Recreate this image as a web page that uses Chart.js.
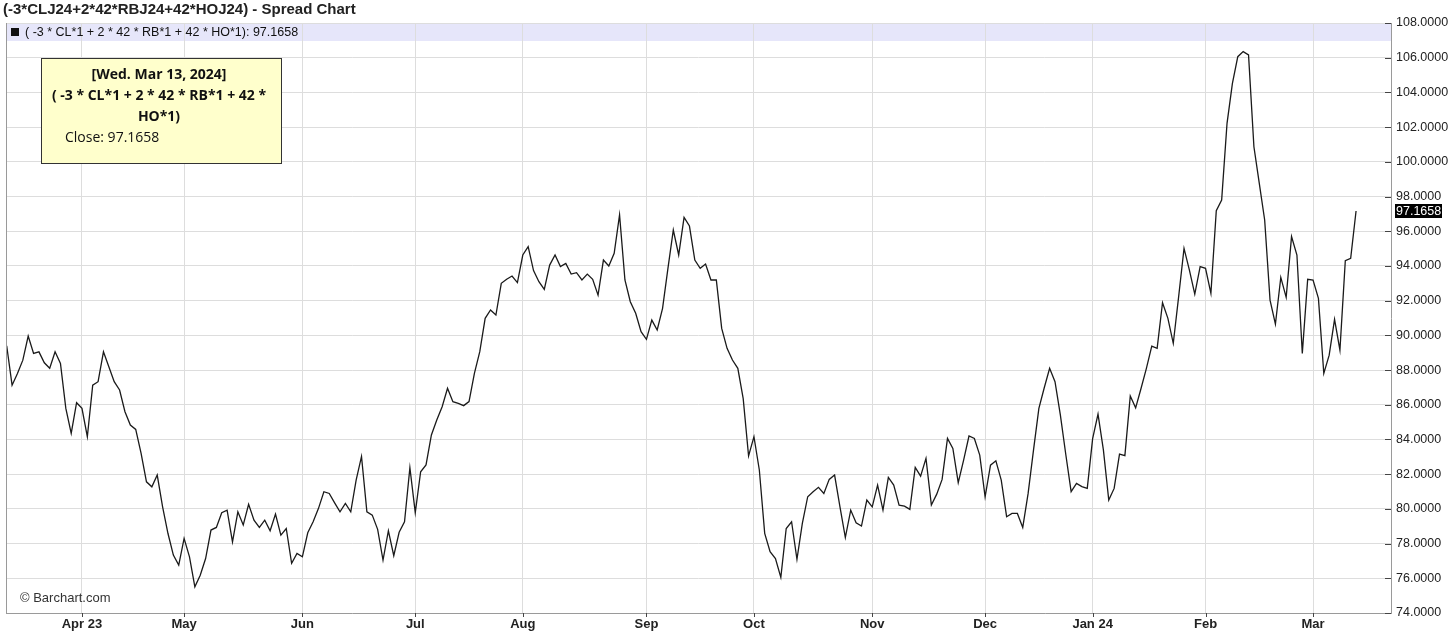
<!DOCTYPE html>
<html>
<head>
<meta charset="utf-8">
<script src="https://cdn.jsdelivr.net/npm/chart.js@4.4.1/dist/chart.umd.min.js"></script>
<style>
  html, body { margin: 0; padding: 0; background: #ffffff; }
  #wrap { position: relative; width: 1456px; height: 638px; }
  canvas { display: block; }
</style>
</head>
<body>
<div id="wrap"><canvas id="c" width="1456" height="638"></canvas></div>
<script>
// ---- Data ----
const chartTitle = "(-3*CLJ24+2*42*RBJ24+42*HOJ24) - Spread Chart";
const seriesName = "( -3 * CL*1 + 2 * 42 * RB*1 + 42 * HO*1)";
const lastDateLabel = "[Wed. Mar 13, 2024]";

// daily closes, trading days from mid-March 2023 to Mar 13, 2024
const closeValues = [
  89.40, 87.13, 87.80, 88.57, 89.96, 88.96, 89.05, 88.42, 88.10, 89.05,
  88.38, 85.79, 84.35, 86.12, 85.79, 84.16, 87.13, 87.33, 89.05, 88.19,
  87.33, 86.85, 85.60, 84.83, 84.58, 83.20, 81.56, 81.27, 81.95, 80.12,
  78.58, 77.34, 76.76, 78.30, 77.24, 75.51, 76.18, 77.14, 78.78, 78.93,
  79.78, 79.93, 78.10, 79.83, 79.07, 80.26, 79.35, 78.93, 79.35, 78.74,
  79.70, 78.49, 78.87, 76.86, 77.43, 77.24, 78.62, 79.26, 80.03, 80.99,
  80.89, 80.35, 79.83, 80.31, 79.83, 81.66, 83.02, 79.83, 79.64, 78.82,
  77.05, 78.74, 77.30, 78.65, 79.26, 82.37, 79.78, 82.14, 82.53, 84.26,
  85.12, 85.89, 86.95, 86.18, 86.08, 85.95, 86.18, 87.81, 89.06, 90.98,
  91.46, 91.17, 93.00, 93.23, 93.42, 93.04, 94.63, 95.11, 93.73, 93.09,
  92.65, 94.05, 94.63, 93.96, 94.15, 93.53, 93.61, 93.19, 93.53, 93.23,
  92.32, 94.34, 94.00, 94.73, 96.94, 93.19, 91.94, 91.27, 90.21, 89.77,
  90.88, 90.31, 91.56, 93.86, 96.07, 94.63, 96.80, 96.30, 94.34, 93.86,
  94.11, 93.19, 93.19, 90.40, 89.25, 88.58, 88.10, 86.35, 83.05, 84.16,
  82.24, 78.59, 77.53, 77.14, 76.05, 78.87, 79.26, 77.09, 79.16, 80.70,
  80.99, 81.24, 80.89, 81.70, 81.95, 80.12, 78.35, 79.93, 79.20, 79.01,
  80.51, 80.12, 81.37, 79.93, 81.81, 81.37, 80.22, 80.16, 79.97, 82.39,
  81.89, 82.91, 80.22, 80.85, 81.70, 84.06, 83.48, 81.51, 82.81, 84.20,
  84.06, 83.10, 80.70, 82.52, 82.77, 81.66, 79.55, 79.74, 79.74, 78.93,
  80.89, 83.39, 85.79, 86.98, 88.10, 87.33, 85.40, 83.15, 80.99, 81.47,
  81.28, 81.18, 84.05, 85.46, 83.40, 80.51, 81.18, 83.16, 83.07, 86.50,
  85.82, 86.94, 88.10, 89.38, 89.25, 91.88, 90.98, 89.54, 92.23, 95.01,
  93.76, 92.38, 93.96, 93.86, 92.42, 97.18, 97.80, 102.22, 104.52, 106.06,
  106.35, 106.16, 100.87, 98.76, 96.65, 92.03, 90.65, 93.34, 92.19, 95.69,
  94.63, 88.96, 93.23, 93.19, 92.13, 87.81, 88.86, 90.92, 89.15, 94.30,
  94.44, 97.1658
];

// first trading day of each month (index into closeValues) and its label
const monthTickIndex = [14, 33, 55, 76, 96, 119, 139, 161, 182, 202, 223, 243];
const monthTickLabels = ["Apr 23", "May", "Jun", "Jul", "Aug", "Sep", "Oct", "Nov", "Dec", "Jan 24", "Feb", "Mar"];

const yMin = 74, yMax = 108, yStep = 2;

// ---- Build ----
const points = closeValues.map((v, i) => ({ x: i, y: v }));
const lastValue = closeValues[closeValues.length - 1];
const SANS = "'Liberation Sans', Arial, Helvetica, sans-serif";
const BOXFONT = "'Open Sans', 'Noto Sans', sans-serif";

const decorPlugin = {
  id: 'decor',
  beforeDraw(chart) {
    const { ctx, chartArea: a } = chart;
    ctx.save();
    ctx.fillStyle = '#ffffff';
    ctx.fillRect(0, 0, chart.width, chart.height);
    // legend band
    ctx.fillStyle = '#e6e6fa';
    ctx.fillRect(a.left, a.top, a.right - a.left, 18);
    ctx.restore();
  },
  afterDraw(chart) {
    const { ctx, chartArea: a, scales } = chart;
    const xs = scales.x, ys = scales.y;
    ctx.save();
    // title
    ctx.fillStyle = '#222';
    ctx.font = "bold 15px " + SANS;
    ctx.textBaseline = 'middle';
    ctx.textAlign = 'left';
    ctx.fillText(chartTitle, 3, 10);
    // legend text in band
    ctx.font = "12.5px " + SANS;
    ctx.fillStyle = '#111';
    ctx.fillRect(11, 28, 8, 8);
    ctx.fillText(seriesName + ": " + lastValue.toFixed(4), 25, 32.5);
    // left border
    ctx.strokeStyle = '#9a9a9a';
    ctx.lineWidth = 1;
    ctx.beginPath();
    ctx.moveTo(a.left + 0.5, a.top);
    ctx.lineTo(a.left + 0.5, a.bottom);
    ctx.stroke();
    // y tick marks (inside, dark)
    ctx.strokeStyle = '#444';
    ys.ticks.forEach(t => {
      const y = Math.round(ys.getPixelForValue(t.value)) + 0.5;
      ctx.beginPath();
      ctx.moveTo(a.right - 6, y);
      ctx.lineTo(a.right, y);
      ctx.stroke();
    });
    // x tick marks (below axis)
    monthTickIndex.forEach(i => {
      const x = Math.round(xs.getPixelForValue(i)) + 0.5;
      ctx.beginPath();
      ctx.moveTo(x, a.bottom);
      ctx.lineTo(x, a.bottom + 4);
      ctx.stroke();
    });
    // last price label
    const py = ys.getPixelForValue(lastValue);
    ctx.fillStyle = '#000';
    ctx.fillRect(a.right + 4, py - 7, 47, 14);
    ctx.fillStyle = '#fff';
    ctx.font = "12.5px " + SANS;
    ctx.textAlign = 'left';
    ctx.fillText(lastValue.toFixed(4), a.right + 5, py + 0.5);
    // copyright
    ctx.fillStyle = '#333';
    ctx.font = "13px " + SANS;
    ctx.fillText("\u00A9 Barchart.com", 20, 598);
    // info box
    const bx = 41.5, by = 58.5, bw = 240, bh = 105;
    ctx.fillStyle = '#ffffcc';
    ctx.fillRect(bx, by, bw, bh);
    ctx.strokeStyle = '#333';
    ctx.lineWidth = 1;
    ctx.strokeRect(bx, by, bw, bh);
    ctx.fillStyle = '#111';
    ctx.font = "bold 14px " + BOXFONT;
    ctx.textAlign = 'center';
    const cx = 159;
    ctx.fillText(lastDateLabel, cx, 75);
    ctx.fillText("( -3 * CL*1 + 2 * 42 * RB*1 + 42 *", cx, 96.5);
    ctx.fillText("HO*1)", cx, 117);
    ctx.font = "14px " + BOXFONT;
    ctx.textAlign = 'left';
    ctx.fillText("Close: " + lastValue.toFixed(4), 65, 138);
    ctx.restore();
  }
};

new Chart(document.getElementById('c'), {
  type: 'line',
  data: {
    datasets: [{
      label: seriesName,
      data: points,
      borderColor: '#1a1a1a',
      borderWidth: 1.3,
      pointRadius: 0,
      tension: 0,
      fill: false
    }]
  },
  options: {
    responsive: false,
    animation: false,
    devicePixelRatio: 1,
    layout: { padding: { top: 23, left: 6, right: 0, bottom: 0 } },
    plugins: { legend: { display: false }, tooltip: { enabled: false }, title: { display: false } },
    scales: {
      x: {
        type: 'linear',
        min: -0.13,
        max: 257.5,
        afterBuildTicks(scale) {
          scale.ticks = monthTickIndex.map(v => ({ value: v }));
        },
        afterFit(scale) { scale.height = 25; },
        ticks: {
          autoSkip: false,
          maxRotation: 0,
          padding: 4,
          color: '#222',
          font: { family: SANS, size: 13, weight: 'bold' },
          callback(value) {
            const k = monthTickIndex.indexOf(value);
            return k >= 0 ? monthTickLabels[k] : '';
          }
        },
        grid: { color: '#dddddd', lineWidth: 1, drawTicks: false },
        border: { color: '#9a9a9a', width: 1 }
      },
      y: {
        position: 'right',
        min: yMin,
        max: yMax,
        afterFit(scale) { scale.width = 65; },
        ticks: {
          stepSize: yStep,
          padding: 5,
          color: '#222',
          font: { family: SANS, size: 12.5 },
          callback(v) { return Number(v).toFixed(4); }
        },
        grid: { color: '#dddddd', lineWidth: 1, drawTicks: false },
        border: { color: '#9a9a9a', width: 1 }
      }
    }
  },
  plugins: [decorPlugin]
});
</script>
</body>
</html>
